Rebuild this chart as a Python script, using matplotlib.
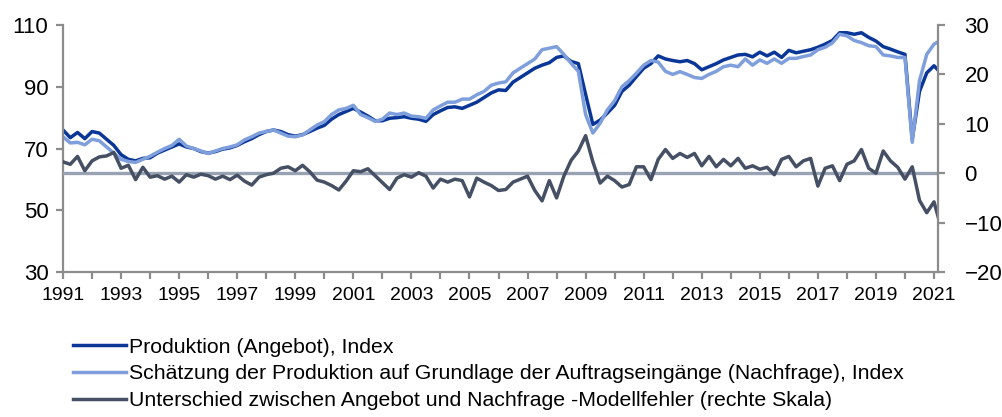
import numpy as np
import matplotlib.pyplot as plt

plt.rcParams['font.family'] = ['Liberation Sans', 'DejaVu Sans']

# quarterly readings 1991Q1 .. 2021Q1, plus the last month shown (Feb 2021)
years = [1991 + i / 4 for i in range(121)] + [2021.15]

produktion = [
    76.0, 73.5, 75.2, 73.2, 75.5, 75.0, 73.0, 71.0, 68.0, 66.5, 66.0, 66.8,
    67.0, 68.5, 69.5, 70.5, 71.5, 70.5, 70.0, 69.0, 68.5, 69.0, 69.8, 70.2,
    71.0, 72.2, 73.2, 74.5, 75.5, 76.0, 75.5, 74.5, 74.0, 74.5, 75.5, 76.6,
    77.5, 79.5, 81.0, 82.0, 83.0, 81.8, 80.5, 79.0, 79.0, 79.8, 80.0, 80.3,
    79.8, 79.5, 78.8, 81.0, 82.2, 83.3, 83.5, 83.0, 84.0, 85.0, 86.5, 88.0,
    89.0, 88.8, 91.5, 93.0, 94.5, 96.0, 97.0, 97.8, 99.5, 100.0, 98.2, 97.5,
    87.5, 77.8, 79.2, 81.5, 84.0, 88.5, 90.5, 93.3, 96.0, 97.5, 100.0, 99.0,
    98.5, 98.1, 98.5, 97.5, 95.5, 96.5, 97.5, 98.7, 99.5, 100.3, 100.5, 99.7,
    101.2, 100.0, 101.2, 99.5, 101.8, 101.0, 101.5, 102.0, 102.8, 103.8, 105.0, 107.5,
    107.5, 107.0, 107.5, 106.0, 104.8, 103.0, 102.2, 101.3, 100.5, 73.0, 88.5, 94.5,
    96.8, 95.3,
]

schaetzung = [
    73.8, 71.8, 72.0, 71.2, 73.0, 72.5, 70.5, 68.5, 66.5, 65.8, 65.5, 66.5,
    67.5, 68.8, 70.0, 71.0, 73.0, 70.8, 70.0, 69.2, 68.4, 69.2, 70.0, 70.5,
    71.2, 72.8, 73.8, 75.0, 75.5, 76.0, 75.0, 74.0, 73.8, 74.4, 76.0, 77.6,
    78.7, 81.0, 82.5, 83.0, 84.0, 81.0, 80.0, 78.8, 79.5, 81.5, 81.0, 81.5,
    80.5, 80.3, 79.8, 82.5, 83.8, 85.0, 85.0, 86.0, 86.0, 87.4, 88.5, 90.5,
    91.2, 91.6, 94.5, 96.0, 97.5, 99.0, 102.0, 102.5, 103.0, 100.5, 97.6, 95.0,
    81.0, 75.0, 78.2, 82.5, 85.5, 90.0, 92.0, 94.4, 97.0, 98.5, 98.0, 95.0,
    94.0, 94.9, 94.0, 93.0, 92.7, 94.0, 95.0, 96.5, 97.0, 96.5, 99.0, 97.0,
    98.7, 97.6, 99.0, 97.6, 99.2, 99.2, 99.8, 100.3, 102.0, 102.8, 104.2, 107.0,
    106.5, 105.0, 104.3, 103.3, 103.0, 100.3, 100.0, 99.5, 99.5, 72.0, 92.0, 100.5,
    103.8, 104.6,
]

modellfehler = [
    2.3, 1.8, 3.4, 0.5, 2.5, 3.3, 3.5, 4.2, 1.0, 1.6, -1.3, 1.2,
    -0.8, -0.5, -1.2, -0.6, -1.8, -0.3, -0.8, -0.2, -0.5, -1.2, -0.6, -1.3,
    -0.4, -1.6, -2.4, -0.8, -0.3, 0.0, 1.0, 1.3, 0.5, 1.6, 0.3, -1.4,
    -1.8, -2.5, -3.4, -1.6, 0.5, 0.3, 0.9, -0.5, -1.9, -3.3, -1.0, -0.3,
    -0.8, 0.1, -0.6, -3.0, -1.2, -1.8, -1.2, -1.5, -4.8, -1.0, -1.8, -2.5,
    -3.5, -3.3, -1.8, -1.2, -0.6, -3.5, -5.6, -1.5, -5.0, -0.6, 2.6, 4.5,
    7.6, 2.3, -2.0, -0.6, -1.5, -2.8, -2.3, 1.3, 1.3, -1.3, 2.8, 4.8,
    3.0, 4.0, 3.2, 4.0, 1.5, 3.4, 1.3, 2.8, 1.5, 3.0, 1.0, 1.5,
    0.8, 1.2, -0.3, 2.8, 3.4, 1.3, 2.5, 3.0, -2.6, 1.0, 1.5, -1.5,
    1.8, 2.5, 4.8, 1.0, 0.0, 4.5, 2.5, 1.2, -1.2, 1.3, -5.5, -8.0,
    -5.8, -9.0,
]

labels = [
    'Produktion (Angebot), Index',
    'Schätzung der Produktion auf Grundlage der Auftragseingänge (Nachfrage), Index',
    'Unterschied zwischen Angebot und Nachfrage -Modellfehler (rechte Skala)',
]

c_prod = '#0a3797'
c_est = '#7f9fdc'
c_gap = '#465064'
c_zero = '#98a2b3'
c_axis = '#8c8c8c'

fig = plt.figure(figsize=(10.02, 4.17), dpi=100)
ax = fig.add_axes([0.0629, 0.3477, 0.8733, 0.5923])
ax2 = ax.twinx()

l1, = ax.plot(years, produktion, color=c_prod, lw=2.5, label=labels[0])
l2, = ax.plot(years, schaetzung, color=c_est, lw=2.5, label=labels[1])
ax2.axhline(0, color=c_zero, lw=2.4)
l3, = ax2.plot(years, modellfehler, color=c_gap, lw=2.5, label=labels[2])

ax.set_xlim(1991, 2021.14)
ax.set_ylim(30, 110)
ax2.set_ylim(-20, 30)
ax.set_yticks([30, 50, 70, 90, 110])
ax2.set_yticks([-20, -10, 0, 10, 20, 30])
ax.set_xticks(range(1991, 2022, 2))
ax.set_xticks(range(1992, 2021, 2), minor=True)

for a in (ax, ax2):
    a.spines['top'].set_visible(False)
    for s in a.spines.values():
        s.set_color(c_axis)
        s.set_linewidth(1.6)
    a.tick_params(which='both', color=c_axis, width=1.6, length=5, labelsize=16)
ax.spines['right'].set_visible(False)
ax2.spines['left'].set_visible(False)
ax2.spines['bottom'].set_visible(False)
ax.tick_params(axis='y', pad=5.5)
ax2.tick_params(axis='y', pad=14)
ax.tick_params(axis='x', labelsize=14, pad=5.5)

fig.legend(handles=[l1, l2, l3], loc='upper left', bbox_to_anchor=(0.0729, 0.19),
           frameon=False, fontsize=15.3, handlelength=2.5, handletextpad=0.15,
           labelspacing=0.36, borderaxespad=0, borderpad=0)

fig.savefig('out.png', dpi=100)
